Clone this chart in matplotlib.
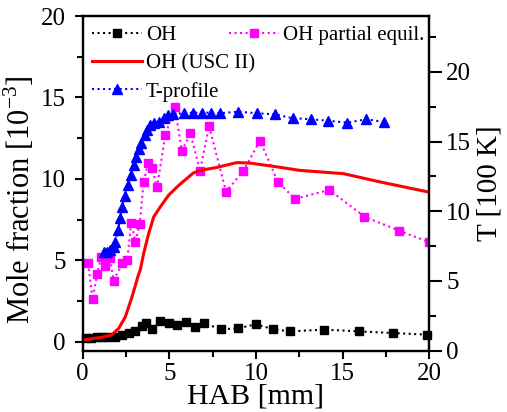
import numpy as np
import matplotlib.pyplot as plt
from matplotlib.ticker import MultipleLocator

plt.rcParams['font.family'] = ['Liberation Serif', 'DejaVu Serif']
plt.rcParams['mathtext.fontset'] = 'custom'
plt.rcParams['mathtext.rm'] = 'Liberation Serif'

# OH measured (mole fraction, 1e-3)
oh_x = [0.2, 0.5, 0.8, 1.1, 1.4, 1.88, 2.27, 2.65, 3.04, 3.42, 3.65, 4.0, 4.48, 5.0,
        5.44, 5.96, 6.48, 7.0, 7.96, 8.98, 9.98, 11.0, 11.96, 13.94, 15.96, 17.92, 19.85]
oh_y = [0.2, 0.25, 0.28, 0.3, 0.3, 0.31, 0.41, 0.55, 0.68, 0.96, 1.13, 0.76, 1.25, 1.15,
        1.04, 1.18, 0.89, 1.14, 0.76, 0.82, 1.07, 0.76, 0.63, 0.74, 0.63, 0.53, 0.43]

# OH partial equilibrium
pe_x = [0.31, 0.58, 0.83, 1.07, 1.30, 1.58, 1.79, 2.29, 2.57, 2.80, 3.04, 3.29, 3.52,
        3.77, 4.0, 4.29, 4.77, 5.31, 5.73, 6.21, 6.77, 7.29, 8.27, 9.27, 10.23, 11.25,
        12.25, 14.23, 16.25, 18.25, 20.0]
pe_y = [4.82, 2.6, 4.16, 5.18, 4.62, 5.12, 3.75, 4.85, 5.0, 7.31, 6.14, 7.21, 9.83,
        10.96, 10.65, 9.48, 12.7, 14.4, 11.71, 12.8, 10.49, 13.25, 9.21, 10.49, 12.35, 9.83,
        8.77, 9.32, 7.68, 6.82, 6.1]

# OH model (USC II)
usc_x = [0.0, 1.11, 1.67, 2.08, 2.46, 2.84, 3.23, 3.32, 3.52, 3.81, 4.1, 4.48, 4.96,
         5.54, 6.38, 6.77, 7.73, 8.89, 9.65, 11.0, 12.54, 15.04, 17.16, 20.0]
usc_y = [0.1, 0.27, 0.41, 0.82, 1.52, 2.72, 4.15, 4.39, 5.42, 6.65, 7.67, 8.28, 9.0,
         9.6, 10.36, 10.52, 10.7, 11.0, 10.97, 10.77, 10.52, 10.32, 9.81, 9.18]

# temperature profile (100 K)
t_x = [1.21, 1.40, 1.59, 1.79, 1.88, 2.04, 2.17, 2.27, 2.42, 2.61, 2.80, 2.94, 3.09,
       3.23, 3.38, 3.58, 3.71, 3.90, 4.10, 4.42, 4.67, 4.92, 5.19, 5.83, 6.35, 6.87,
       7.39, 7.92, 8.98, 10.04, 11.1, 12.12, 13.16, 14.17, 15.27, 16.35, 17.39]
t_y = [7.1, 7.1, 7.23, 7.46, 7.82, 8.66, 9.5, 10.29, 11.1, 11.89, 12.6, 13.32, 13.91,
       14.44, 14.92, 15.47, 15.83, 16.19, 16.35, 16.42, 16.67, 16.9, 16.98, 17.03, 17.07,
       17.07, 17.07, 17.03, 17.14, 17.03, 16.95, 16.67, 16.6, 16.49, 16.35, 16.6, 16.4]

fig = plt.figure(figsize=(5.07, 4.12), dpi=100)
ax = fig.add_axes([0.163, 0.149, 0.684, 0.812])
ax2 = ax.twinx()

l1, = ax.plot(oh_x, oh_y, ':', color='black', lw=1.5, marker='s', ms=5.5,
              label='OH', clip_on=False)
l2, = ax.plot(pe_x, pe_y, ':', color='#ff00ff', lw=1.5, marker='s', ms=5.5,
              label='OH partial equil.')
l3, = ax.plot(usc_x, usc_y, '-', color='#ff0000', lw=2.2, label='OH (USC II)')
l4, = ax2.plot(t_x, t_y, ':', color='#0000ff', lw=1.5, marker='^', ms=6.5,
               label='T-profile')

ax.set_xlim(0, 20)
ax.set_ylim(-0.55, 20)
ax2.set_ylim(0, 24)

ax.xaxis.set_major_locator(MultipleLocator(5))
ax.xaxis.set_minor_locator(MultipleLocator(2.5))
ax.yaxis.set_major_locator(MultipleLocator(5))
ax.yaxis.set_minor_locator(MultipleLocator(2.5))
ax2.yaxis.set_major_locator(MultipleLocator(5))
ax2.yaxis.set_minor_locator(MultipleLocator(2.5))

for a in (ax, ax2):
    for s in a.spines.values():
        s.set_linewidth(1.6)
ax.tick_params(which='major', direction='out', length=6, width=1.5, labelsize=18, pad=3)
ax.tick_params(which='minor', direction='out', length=4, width=1.5)
ax.tick_params(axis='y', which='major', pad=6)
ax2.tick_params(which='major', direction='out', length=9, width=1.5, labelsize=18, pad=3)
ax2.tick_params(which='minor', direction='out', length=5, width=1.5)

ax.set_xlabel('HAB [mm]', fontsize=21.5, labelpad=-1.5)
ax.set_ylabel(r'Mole fraction [10$^{-3}$]', fontsize=22)
ax.yaxis.set_label_coords(-0.132, 0.45)
ax2.set_ylabel('T [100 K]', fontsize=21, labelpad=4)

leg1 = ax2.legend([l1, l3, l4], ['OH', 'OH (USC II)', 'T-profile'], loc='upper left',
                  bbox_to_anchor=(-0.01, 1.008), frameon=False, fontsize=15, numpoints=1,
                  handlelength=2.4, handletextpad=0.2, labelspacing=0.4, borderaxespad=0.2)
ax2.add_artist(leg1)
ax2.legend([l2], ['OH partial equil.'], loc='upper left', bbox_to_anchor=(0.385, 1.008),
           frameon=False, fontsize=15, numpoints=1, handlelength=2.4,
           handletextpad=0.2, borderaxespad=0.2)

plt.savefig('out.png', dpi=100)
